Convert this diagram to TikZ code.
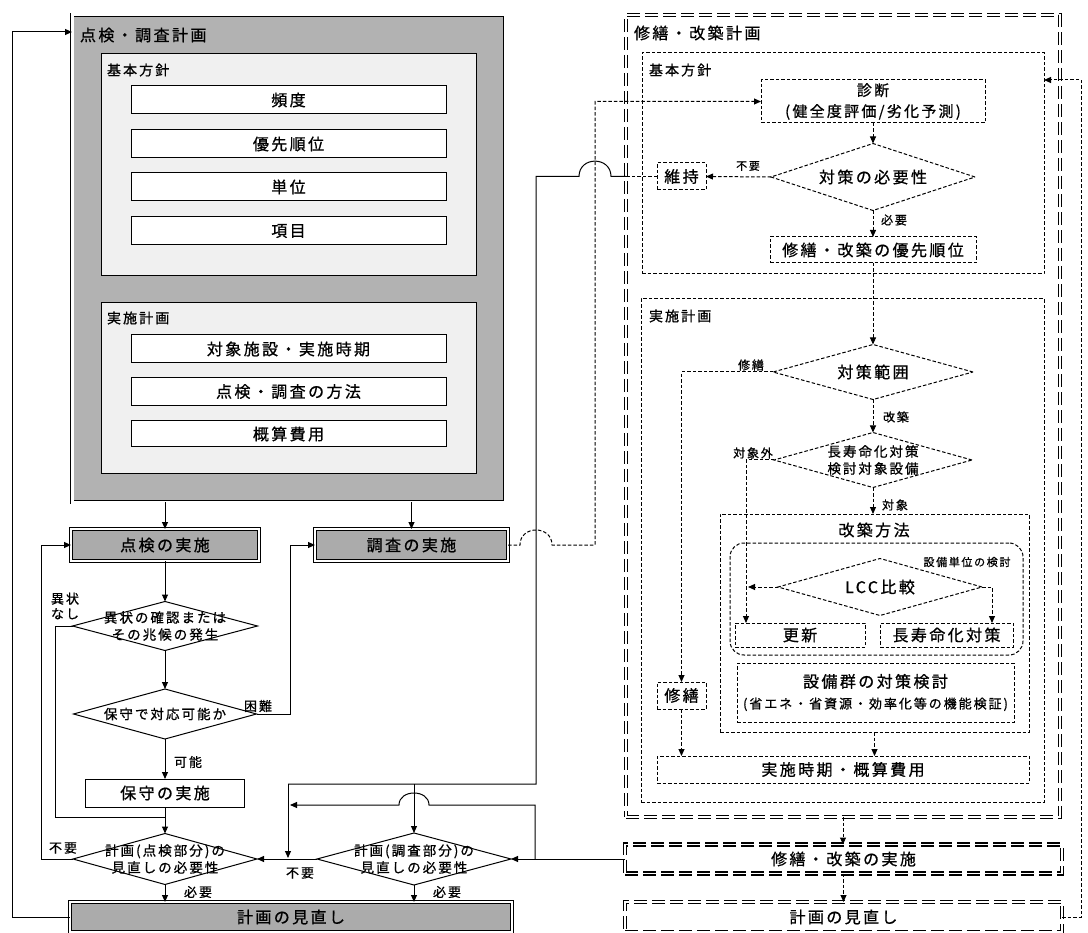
\documentclass[tikz,border=0pt]{standalone}
\usepackage{fontspec}
\setmainfont{Noto Sans CJK JP}[LetterSpace=15,FakeBold=0.8]
\usetikzlibrary{shapes.geometric,arrows.meta}
\newcommand\fmain{\fontsize{16}{19}\selectfont}
\newcommand\fmid{\fontsize{15}{21}\selectfont}
\newcommand\flab{\fontsize{14}{16}\selectfont}
\newcommand\fdia{\fontsize{13.5}{17}\selectfont}
\newcommand\fsm{\fontsize{13}{15}\selectfont}
\newcommand\fsr{\fontsize{12}{14}\selectfont}
\newcommand\ftiny{\fontsize{11}{13}\selectfont}
\begin{document}
\begin{tikzpicture}[x=1pt,y=-1pt,
  every node/.style={inner sep=0pt,outer sep=0pt},
  arrtip/.style={-{Triangle[length=7pt,width=6pt]}},
  ln/.style={line width=1pt},
  conn/.style={ln,arrtip},
  dl/.style={dash pattern=on 3.5pt off 2pt},
  dconn/.style={conn,dl},
  bigframe/.style={draw,double,double distance=3pt,line width=0.9pt,fill=black!30},
  panel/.style={draw,line width=0.9pt,fill=black!6},
  item/.style={draw,line width=1pt,fill=white,minimum width=315pt,font=\fmain},
  greybox/.style={draw,double,double distance=1.6pt,line width=0.8pt,fill=black!33,font=\fmain},
  wbox/.style={draw,line width=1pt,fill=white,font=\fmain},
  dia/.style={diamond,draw,line width=1pt},
  ddia/.style={diamond,draw,line width=1pt,dl},
  dbox/.style={draw,line width=1pt,dl},
  dframe/.style={draw,double,double distance=1.5pt,line width=1.4pt,dash pattern=on 13pt off 5pt},
  lbl/.style={font=\fsm},
  rlbl/.style={font=\fsr},
]
\useasboundingbox (0,0) rectangle (1088,933);

% ---------- left: inspection / survey plan ----------
\node[bigframe,minimum width=433pt,minimum height=487pt] (plan) at (288.5,258.5) {};
\node[anchor=west,font=\fmain] (planT) at (80,35) {点検・調査計画};
\node[panel,minimum width=375pt,minimum height=222pt] (kihon) at (288.5,164) {};
\node[anchor=west,font=\flab] (kihonT) at (107,70) {基本方針};
\node[item,minimum height=28pt] (i1) at (288.5,100) {頻度};
\node[item,minimum height=28pt] (i2) at (288.5,144) {優先順位};
\node[item,minimum height=28pt] (i3) at (288.5,187) {単位};
\node[item,minimum height=28pt] (i4) at (288.5,231) {項目};
\node[panel,minimum width=375pt,minimum height=171pt] (jisshi) at (288.5,387.5) {};
\node[anchor=west,font=\flab] (jisshiT) at (107,318) {実施計画};
\node[item,minimum height=28pt] (i5) at (288.5,349) {対象施設・実施時期};
\node[item,minimum height=28pt] (i6) at (288.5,391.5) {点検・調査の方法};
\node[item,minimum height=26pt] (i7) at (288.5,434) {概算費用};

\node[greybox,minimum width=188pt,minimum height=32pt] (tk) at (165,545) {点検の実施};
\node[greybox,minimum width=193pt,minimum height=32pt] (cs) at (411.5,545) {調査の実施};

\node[dia,minimum width=185pt,minimum height=49pt] (d1) at (165,626) {};
\node[font=\fdia,align=center] (d1t) at (d1) {異状の確認または\\その兆候の発生};
\node[dia,minimum width=183pt,minimum height=50pt] (d2) at (165,714) {};
\node[font=\fdia] (d2t) at (d2) {保守で対応可能か};
\node[wbox,minimum width=159pt,minimum height=28pt] (hs) at (165,793) {保守の実施};
\node[dia,minimum width=184pt,minimum height=51pt] (d3) at (165,859) {};
\node[font=\fdia,align=center] (d3t) at (d3) {計画(点検部分)の\\見直しの必要性};
\node[dia,minimum width=194pt,minimum height=52pt] (d4) at (414,859) {};
\node[font=\fdia,align=center] (d4t) at (d4) {計画(調査部分)の\\見直しの必要性};
\node[greybox,minimum width=442pt,minimum height=30pt] (rv) at (291,917) {計画の見直し};

% ---------- right: repair / renovation plan ----------
\node[dframe,minimum width=434pt,minimum height=802pt] (fr) at (843,416) {};
\node[anchor=west,font=\fmain] (frT) at (634,33) {修繕・改築計画};
\node[dbox,minimum width=402pt,minimum height=221pt] (rk) at (843,163.5) {};
\node[anchor=west,font=\flab] (rkT) at (649,70) {基本方針};
\node[dbox,minimum width=224pt,minimum height=43pt,font=\fmid,align=center] (sd) at (873,101.5) {診断\\(健全度評価/劣化予測)};
\node[ddia,minimum width=204pt,minimum height=67pt] (nd) at (873,177) {};
\node[font=\fmain] (ndt) at (nd) {対策の必要性};
\node[dbox,minimum width=49pt,minimum height=27pt,font=\fmain] (iji) at (681.5,176.5) {維持};
\node[dbox,minimum width=206pt,minimum height=26pt,font=\fmain] (yu) at (873,250) {修繕・改築の優先順位};

\node[dbox,minimum width=403pt,minimum height=503pt] (rj) at (842.5,550.5) {};
\node[anchor=west,font=\flab] (rjT) at (649,316) {実施計画};
\node[ddia,minimum width=200pt,minimum height=55pt] (tr) at (873,372) {};
\node[font=\fmain] (trt) at (tr) {対策範囲};
\node[ddia,minimum width=198pt,minimum height=55pt] (ch) at (873,460) {};
\node[font=\fdia,align=center] (cht) at (ch) {長寿命化対策\\検討対象設備};
\node[dbox,minimum width=309pt,minimum height=218pt] (km) at (874.5,623) {};
\node[font=\fmain] (kmT) at (874,530) {改築方法};
\node[dbox,rounded corners=14pt,minimum width=293pt,minimum height=112pt] (grp) at (876.5,599) {};
\node[font=\ftiny] (grpT) at (967,562) {設備単位の検討};
\node[ddia,minimum width=204pt,minimum height=57pt] (lcc) at (880,587) {};
\node[font=\fmain] (lcct) at (lcc) {LCC比較};
\node[dbox,minimum width=130pt,minimum height=24pt,font=\fmain] (kou) at (800,635) {更新};
\node[dbox,minimum width=133pt,minimum height=24pt,font=\fmain] (cj) at (946.5,635) {長寿命化対策};
\node[dbox,minimum width=277pt,minimum height=59pt,align=center,font=\fsm] (sb) at (875.5,692.5) {{\fmain 設備群の対策検討}\\[6pt](省エネ・省資源・効率化等の機能検証)};
\node[dbox,minimum width=49pt,minimum height=27pt,font=\fmain] (shu) at (681.5,695.5) {修繕};
\node[dbox,minimum width=372pt,minimum height=27pt,font=\fmain] (jk) at (843,769.5) {実施時期・概算費用};
\node[dframe,minimum width=437pt,minimum height=29pt,font=\fmain] (ri) at (843.5,859) {修繕・改築の実施};
\node[dframe,minimum width=437pt,minimum height=30pt,font=\fmain] (rr) at (843.5,917) {計画の見直し};

% ---------- left connectors ----------
\draw[conn] (plan.south -| tk.north) -- (tk.north);
\draw[conn] (plan.south -| cs.north) -- (cs.north);
\draw[conn] (tk.south) -- (d1.north);
\draw[conn] (d1.south) -- (d2.north);
\draw[conn] (d2.south) -- (hs.north);
\draw[conn] (hs.south) -- (d3.north);
\draw[conn] (d3.south) -- (d3.south |- rv.north);
\coordinate (j1) at (165,817);
\draw[ln] (d1.west) -- ++(-17,0) |- (j1);
\draw[conn] (d3.west) -- ++(-32,0) |- (tk.west);
\draw[conn] (d2.east) -- ++(34,0) |- (cs.west);
\draw[conn] (rv.west) -- ++(-58,0) |- ([yshift=-17pt]plan.north west);
\draw[conn] (d4.west) -- (d3.east);
\draw[conn] (d4.south) -- (d4.south |- rv.north);
\draw[conn] (ri.west) -- (d4.east);
\coordinate (b1) at (535,859);
\coordinate (b2) at (290,805);
\draw[conn] (b1) -- (535,805) -- (429,805) .. controls (429,789) and (399,789) .. (399,805) -- (b2);
\coordinate (m1) at (626,176.5);
\coordinate (m2) at (288,784);
\coordinate (m3) at (288,858);
\draw[ln,dl] (iji.west) -- (m1);
\draw[ln] (m1) -- (611,176.5) .. controls (611,156) and (579,156) .. (579,176.5) -- (536,176.5) -- (536,784) -- (m2);
\draw[conn] (m2) -- (m3);
\draw[conn] (d4.north |- m2) -- (d4.north);
\draw[dconn] (cs.east) -- (520,545) .. controls (520,525) and (552,525) .. (552,545) -- (595,545) -- (595,101.5) -- (sd.west);

% ---------- right connectors ----------
\draw[dconn] (sd.south) -- (nd.north);
\draw[dconn] (nd.west) -- (iji.east);
\draw[dconn] (nd.south) -- (yu.north);
\draw[dconn] (yu.south) -- (tr.north);
\draw[dconn] (tr.west) -| (shu.north);
\draw[dconn] (tr.south) -- (ch.north);
\draw[dconn] (ch.west) -| ([xshift=11pt]kou.north west);
\draw[dconn] (ch.south) -- (ch.south |- km.north);
\coordinate (lccL) at (748,587);
\draw[dconn] (lcc.west) -- (lccL);
\draw[dconn] (lcc.east) -| ([xshift=-21pt]cj.north east);
\draw[dconn] (km.south) -- (km.south |- jk.north);
\draw[dconn] (shu.south) -- (shu.south |- jk.north);
\draw[dconn] (fr.south) -- (fr.south |- ri.north);
\draw[dconn] (ri.south) -- (ri.south |- rr.north);
\draw[dconn] (rr.east) -- ++(19,0) |- (rk.east |- 0,80);

% ---------- labels ----------
\node[lbl,align=center] (lb1) at (65,606) {異状\\なし};
\node[lbl] (lb2) at (258,706) {困難};
\node[lbl] (lb3) at (188,762) {可能};
\node[lbl] (lb4) at (63,848) {不要};
\node[lbl] (lb5) at (198,892) {必要};
\node[lbl] (lb6) at (300,873) {不要};
\node[lbl] (lb7) at (447,892) {必要};
\node[font=\ftiny] (lb8) at (748,166) {不要};
\node[rlbl] (lb9) at (894,220) {必要};
\node[rlbl] (lb10) at (751,365) {修繕};
\node[rlbl] (lb11) at (896,417) {改築};
\node[rlbl] (lb12) at (753,453) {対象外};
\node[rlbl] (lb13) at (895,505) {対象};
\end{tikzpicture}
\end{document}
